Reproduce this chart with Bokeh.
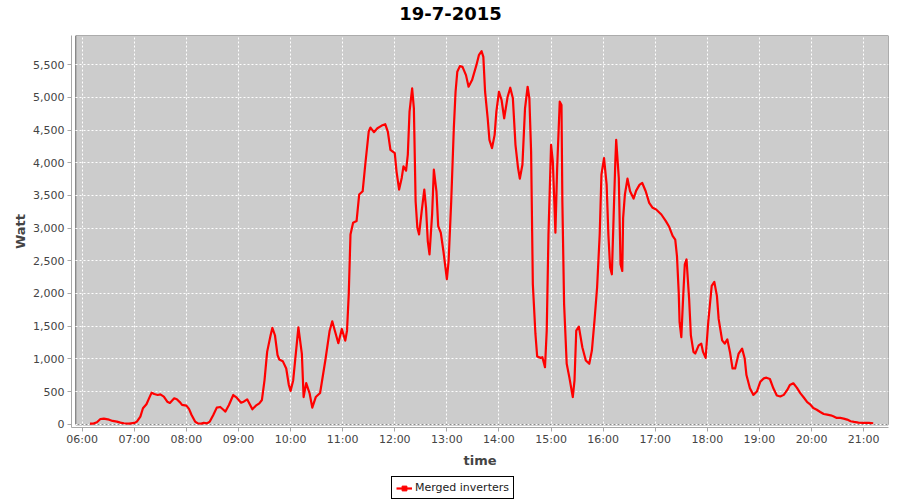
import pandas as pd
from bokeh.plotting import figure
from bokeh.layouts import column
from bokeh.models import (Range1d, BoxAnnotation, Label, Legend, LegendItem, FixedTicker,
                          DatetimeTickFormatter, NumeralTickFormatter, ColumnDataSource)
from bokeh.embed import file_html
from bokeh.resources import INLINE

DAY = "2015-07-19"
TITLE = "19-7-2015"
SERIES = "Merged inverters"

times = [
    "06:09", "06:13", "06:17", "06:21", "06:25", "06:31", "06:35", "06:40", "06:44", "06:48",
    "06:54", "07:00", "07:03", "07:07", "07:10", "07:14", "07:17", "07:20", "07:23", "07:27",
    "07:30", "07:34", "07:38", "07:41", "07:46", "07:49", "07:53", "07:55", "08:00", "08:03",
    "08:06", "08:10", "08:13", "08:17", "08:20", "08:24", "08:27", "08:31", "08:35", "08:39",
    "08:42", "08:45", "08:49", "08:54", "08:58", "09:03", "09:06", "09:10", "09:13", "09:16",
    "09:20", "09:24", "09:27", "09:30", "09:33", "09:37", "09:39", "09:42", "09:45", "09:47",
    "09:51", "09:55", "09:58", "10:00", "10:03", "10:09", "10:13", "10:15", "10:18", "10:22",
    "10:25", "10:29", "10:34", "10:40", "10:45", "10:48", "10:51", "10:55", "10:59", "11:03",
    "11:05", "11:07", "11:09", "11:12", "11:16", "11:19", "11:23", "11:26", "11:30", "11:32",
    "11:36", "11:40", "11:45", "11:49", "11:52", "11:55", "12:00", "12:02", "12:05", "12:08",
    "12:10", "12:13", "12:15", "12:17", "12:20", "12:22", "12:24", "12:26", "12:28", "12:31",
    "12:34", "12:36", "12:38", "12:40", "12:43", "12:45", "12:48", "12:50", "12:53", "12:56",
    "13:00", "13:02", "13:05", "13:08", "13:10", "13:12", "13:15", "13:18", "13:22", "13:25",
    "13:29", "13:34", "13:37", "13:40", "13:42", "13:44", "13:47", "13:49", "13:52", "13:55",
    "13:57", "14:00", "14:03", "14:06", "14:10", "14:13", "14:16", "14:19", "14:22", "14:24",
    "14:27", "14:30", "14:33", "14:35", "14:37", "14:39", "14:42", "14:44", "14:48", "14:50",
    "14:53", "14:55", "14:57", "15:00", "15:02", "15:04", "15:05", "15:07", "15:10", "15:12",
    "15:13", "15:15", "15:18", "15:21", "15:25", "15:27", "15:29", "15:32", "15:36", "15:40",
    "15:44", "15:47", "15:50", "15:53", "15:56", "15:58", "16:01", "16:04", "16:06", "16:08",
    "16:10", "16:12", "16:14", "16:15", "16:18", "16:20", "16:22", "16:23", "16:25", "16:28",
    "16:31", "16:35", "16:38", "16:42", "16:45", "16:49", "16:53", "16:57", "17:01", "17:07",
    "17:12", "17:16", "17:20", "17:23", "17:25", "17:27", "17:28", "17:30", "17:32", "17:34",
    "17:36", "17:39", "17:41", "17:44", "17:46", "17:50", "17:53", "17:55", "17:58", "18:01",
    "18:05", "18:08", "18:11", "18:13", "18:17", "18:20", "18:23", "18:26", "18:29", "18:32",
    "18:36", "18:40", "18:43", "18:45", "18:49", "18:53", "18:57", "19:01", "19:05", "19:08",
    "19:12", "19:16", "19:20", "19:24", "19:28", "19:32", "19:35", "19:39", "19:43", "19:47",
    "19:51", "19:55", "19:58", "20:02", "20:06", "20:10", "20:14", "20:18", "20:22", "20:25",
    "20:29", "20:33", "20:37", "20:41", "20:45", "20:49", "20:54", "21:00", "21:06", "21:11",
]

watts = [
    10, 10, 30, 80, 86, 70, 50, 40, 25, 15,
    10, 20, 40, 117, 244, 305, 396, 483, 462, 447,
    457, 422, 345, 325, 396, 381, 330, 295, 284, 234,
    142, 40, 15, 10, 20, 15, 40, 142, 254, 264,
    229, 193, 295, 447, 406, 330, 345, 381, 305, 229,
    284, 320, 371, 676, 1107, 1361, 1473, 1361, 1057, 990,
    965, 853, 600, 510, 670, 1482, 1076, 416, 629, 467,
    254, 416, 477, 975, 1431, 1574, 1431, 1239, 1457, 1279,
    1431, 1990, 2903, 3081, 3107, 3513, 3563, 3969, 4477, 4538,
    4467, 4528, 4568, 4589, 4477, 4198, 4147, 3868, 3589, 3767,
    3944, 3878, 4122, 4782, 5137, 4832, 3411, 3005, 2903, 3259,
    3589, 3310, 2802, 2599, 3208, 3893, 3563, 3030, 2929, 2650,
    2218, 2497, 3411, 4528, 5086, 5391, 5477, 5467, 5340, 5162,
    5264, 5492, 5650, 5705, 5619, 5086, 4680, 4350, 4223, 4426,
    4782, 5086, 4959, 4680, 5010, 5147, 4985, 4274, 3919, 3756,
    3969, 4832, 5162, 4985, 4172, 2142, 1381, 1036, 1015, 1025,
    873, 1431, 2903, 4274, 4020, 3310, 2929, 3919, 4934, 4883,
    3411, 1838, 924, 721, 416, 670, 1431, 1492, 1178, 975,
    924, 1127, 1584, 2091, 2903, 3817, 4071, 3665, 2903, 2396,
    2294, 3157, 4020, 4350, 3766, 2447, 2345, 3157, 3513, 3756,
    3563, 3452, 3574, 3665, 3690, 3563, 3386, 3310, 3284, 3208,
    3110, 3020, 2880, 2823, 2570, 2015, 1560, 1333, 1914, 2444,
    2520, 1914, 1358, 1106, 1081, 1207, 1232, 1106, 1015, 1560,
    2116, 2177, 1964, 1611, 1283, 1232, 1298, 1106, 853, 853,
    1081, 1156, 1005, 752, 550, 449, 500, 651, 702, 712,
    692, 550, 439, 424, 449, 525, 601, 626, 560, 475,
    409, 338, 308, 247, 222, 187, 156, 146, 136, 121,
    96, 96, 86, 71, 45, 35, 25, 20, 20, 15,
]

hour_ticks = ["06:00", "07:00", "08:00", "09:00", "10:00", "11:00", "12:00", "13:00",
              "14:00", "15:00", "16:00", "17:00", "18:00", "19:00", "20:00", "21:00"]
watt_ticks = [0, 500, 1000, 1500, 2000, 2500, 3000, 3500, 4000, 4500, 5000, 5500]

RED = "#ff0000"
FRAME_LEFT = 71  # column aligns every strip's frame with the main plot's frame


def ms(hm):
    return pd.Timestamp(DAY + " " + hm).value / 1e6


def bare(width, height):
    f = figure(width=width, height=height, output_backend="svg", toolbar_location=None,
               x_range=Range1d(0, 1), y_range=Range1d(0, 1),
               x_axis_location=None, y_axis_location=None,
               min_border_left=0, min_border_right=0, min_border_top=0, min_border_bottom=0)
    f.outline_line_color = None
    f.background_fill_color = "white"
    f.border_fill_color = "white"
    f.xgrid.visible = False
    f.ygrid.visible = False
    return f


src = ColumnDataSource(dict(t=[ms(t) for t in times], w=watts))

# ---- title strip ----
tfig = bare(900, 35)
tfig.add_layout(Label(x=450 - FRAME_LEFT, y=22, x_units="screen", y_units="screen", text=TITLE,
                      text_align="center", text_baseline="middle", text_font="DejaVu Sans",
                      text_font_style="bold", text_font_size="18px", text_color="black"))

# ---- main plot ----
p = figure(width=900, height=435, x_axis_type="datetime",
           output_backend="svg", toolbar_location=None,
           x_range=Range1d(ms("05:47:42"), ms("21:28:36")),
           y_range=Range1d(-50, 5946),
           min_border_left=FRAME_LEFT, min_border_right=12, min_border_top=0, min_border_bottom=41)

p.background_fill_color = "white"
p.border_fill_color = "white"
p.outline_line_color = None

plot_bg = BoxAnnotation(left=ms("05:52:36"), bottom=-9, fill_color="#cccccc", fill_alpha=1.0,
                        line_color="#666666", line_width=1, line_alpha=1.0, level="image")
p.add_layout(plot_bg)

r = p.line("t", "w", source=src, line_color=RED, line_width=2.2, line_join="round")

p.xaxis.ticker = FixedTicker(ticks=[ms(h) for h in hour_ticks])
fmt = "%H:%M"
p.xaxis.formatter = DatetimeTickFormatter(minutes=fmt, hourmin=fmt, hours=fmt, days=fmt,
                                          minsec=fmt, seconds=fmt)
p.yaxis.ticker = FixedTicker(ticks=watt_ticks)
p.yaxis.formatter = NumeralTickFormatter(format="0,0")

for ax in (p.xaxis, p.yaxis):
    ax.axis_line_color = "#a8a8a8"
    ax.major_tick_line_color = "#a8a8a8"
    ax.major_tick_out = 4
    ax.major_tick_in = 0
    ax.minor_tick_line_color = None
    ax.major_label_text_font = "DejaVu Sans"
    ax.major_label_text_font_size = "11px"
    ax.major_label_text_color = "#444444"
    ax.axis_label_text_font = "DejaVu Sans"
    ax.axis_label_text_font_style = "bold"
    ax.axis_label_text_font_size = "13px"
    ax.axis_label_text_color = "#444444"

p.xaxis.axis_label = "time"
p.yaxis.axis_label = "Watt"
p.xaxis.major_label_standoff = 1
p.xaxis.axis_label_standoff = 4
p.yaxis.major_label_standoff = 3
p.yaxis.axis_label_standoff = 2

for g in (p.xgrid, p.ygrid):
    g.grid_line_color = "white"
    g.grid_line_dash = "2 2"
    g.grid_line_width = 1
    g.grid_line_alpha = 1.0

# ---- legend strip (its line uses the same data, kept outside this strip's view) ----
lfig = bare(900, 30)
l1 = lfig.line("t", "w", source=src, line_color=RED, line_width=2.2)
l2 = lfig.scatter("t", "w", source=src, marker="square", size=4, color=RED)
legend = Legend(items=[LegendItem(label=SERIES, renderers=[l1, l2])],
                location=(391 - FRAME_LEFT, 1), orientation="horizontal",
                border_line_color="black", border_line_width=1, border_line_alpha=1.0,
                background_fill_color="white", background_fill_alpha=1.0,
                label_text_font="DejaVu Sans", label_text_font_size="11px",
                label_text_color="#222222", glyph_width=16, glyph_height=12,
                label_height=12, label_standoff=3, padding=4, margin=0, spacing=0)
lfig.add_layout(legend)

layout = column(tfig, p, lfig, spacing=0)
open("out.html", "w").write(file_html(layout, INLINE))
